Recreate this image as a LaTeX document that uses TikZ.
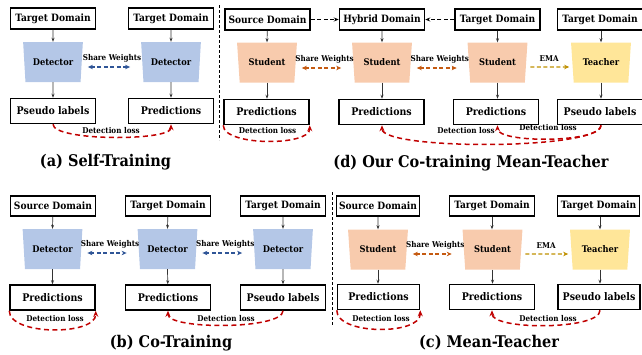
\documentclass[tikz,border=0pt]{standalone}
\usepackage{fontspec}
\setmainfont{DejaVu Serif Condensed}
\usetikzlibrary{arrows.meta,shapes.geometric}
\definecolor{detblue}{HTML}{B4C7E7}
\definecolor{stupeach}{HTML}{F8CBAD}
\definecolor{teayellow}{HTML}{FFE699}
\definecolor{shareblue}{HTML}{2F5597}
\definecolor{shareorange}{HTML}{C55A11}
\definecolor{emagold}{HTML}{BF9000}
\definecolor{lossred}{HTML}{C00000}
\begin{document}
\begin{tikzpicture}[x=1pt,y=-1pt,
  dbox/.style={draw, line width=1.5pt, minimum width=85pt, minimum height=21pt, inner sep=0pt, font=\rmfamily\bfseries\fontsize{10.1}{12}\selectfont},
  pbox/.style={dbox, minimum height=25pt, font=\rmfamily\bfseries\fontsize{10.5}{12}\selectfont},
  netshape/.style={trapezium, trapezium left angle=76, trapezium right angle=76, shape border rotate=180, minimum width=60pt, minimum height=40pt, trapezium stretches=true, inner sep=0pt, font=\rmfamily\bfseries\fontsize{9.2}{11}\selectfont},
  detnet/.style={netshape, fill=detblue},
  stunet/.style={netshape, fill=stupeach},
  teanet/.style={netshape, fill=teayellow},
  flow/.style={-{Stealth[length=4pt,width=3pt]}, line width=0.7pt, draw=black!80},
  sharearr/.style={{Stealth[length=5pt,width=4.5pt]}-{Stealth[length=5pt,width=4.5pt]}, dash pattern=on 4pt off 2.5pt, line width=1.4pt, shorten <=6pt, shorten >=12pt},
  emaarr/.style={-{Stealth[length=5pt,width=4.5pt]}, dash pattern=on 4pt off 2.5pt, line width=1.4pt, draw=emagold, shorten <=4pt, shorten >=3pt},
  lbl/.style={font=\rmfamily\bfseries\fontsize{8}{10}\selectfont, inner sep=0pt},
  loss/.style={-{Stealth[length=6pt,width=5pt]}, dash pattern=on 5pt off 3.5pt, line width=1.5pt, draw=lossred},
  dom/.style={-{Stealth[length=5pt,width=4pt]}, dash pattern=on 4pt off 2.5pt, line width=1.1pt},
  divider/.style={dash pattern=on 3pt off 2pt, line width=1pt},
  ttl/.style={font=\rmfamily\bfseries\fontsize{16.1}{20}\selectfont, inner sep=0pt}
]
\useasboundingbox (0,0) rectangle (642,354);

% ---------------- (a) Self-Training ----------------
\node[dbox] (a1) at (53,18.5) {Target Domain};
\node[dbox] (a2) at (171,18.5) {Target Domain};
\node[detnet] (ad1) at (53,62) {Detector};
\node[detnet] (ad2) at (171,62) {Detector};
\node[pbox] (ap1) at (53,111) {Pseudo labels};
\node[pbox] (ap2) at (171,111) {Predictions};
\draw[flow] (a1) -- (ad1.north);
\draw[flow] (a2) -- (ad2.north);
\draw[flow] (ad1.south) -- (ap1);
\draw[flow] (ad2.south) -- (ap2);
\draw[sharearr, draw=shareblue] ([yshift=-5pt]ad1.east) -- ([yshift=-5pt]ad2.west)
  node[lbl, midway, yshift=9pt] {Share Weights};
\draw[loss] (ap1.south) .. controls +(0,17) and +(0,17) .. (ap2.south);
\node[lbl] (al) at (111,131) {Detection loss};
\node[ttl] (at) at (105.5,162) {(a) Self-Training};

% ---------------- (d) Co-training Mean-Teacher ----------------
\node[dbox] (d1) at (267.5,19.5) {Source Domain};
\node[dbox] (d2) at (382,19.5) {Hybrid Domain};
\node[dbox] (d3) at (497.5,19.5) {Target Domain};
\node[dbox] (d4) at (600,19.5) {Target Domain};
\node[stunet] (dn1) at (267,62.5) {Student};
\node[stunet] (dn2) at (382,62.5) {Student};
\node[stunet] (dn3) at (497.5,62.5) {Student};
\node[teanet] (dn4) at (601,62.5) {Teacher};
\node[pbox] (dp1) at (266.5,112) {Predictions};
\node[pbox] (dp2) at (381.5,112) {Predictions};
\node[pbox] (dp3) at (496,112) {Predictions};
\node[pbox] (dp4) at (600,112) {Pseudo labels};
\draw[dom] (d1) -- (d2);
\draw[dom] (d3) -- (d2);
\draw[flow] (d1) -- (dn1.north);
\draw[flow] (d2) -- (dn2.north);
\draw[flow] (d3) -- (dn3.north);
\draw[flow] (d4.south -| dn4.north) -- (dn4.north);
\draw[flow] (dn1.south) -- (dp1.north -| dn1.south);
\draw[flow] (dn2.south) -- (dp2.north -| dn2.south);
\draw[flow] (dn3.south) -- (dp3.north -| dn3.south);
\draw[flow] (dn4.south) -- (dp4.north -| dn4.south);
\draw[sharearr, draw=shareorange] ([yshift=-5.5pt]dn1.east) -- ([yshift=-5.5pt]dn2.west)
  node[lbl, midway, yshift=8.5pt] {Share Weights};
\draw[sharearr, draw=shareorange] ([yshift=-5.5pt]dn2.east) -- ([yshift=-5.5pt]dn3.west)
  node[lbl, midway, yshift=8.5pt] {Share Weights};
\draw[emaarr] ([yshift=-4.5pt]dn3.east) -- ([yshift=-4.5pt]dn4.west)
  node[lbl, midway, yshift=8.5pt] {EMA};
\draw[loss] (dp1.south west) .. controls +(0,21) and +(0,21) .. (dp1.south east);
\node[lbl] (dl1) at (267.5,131) {Detection loss};
\draw[loss] (dp4.south -| dn4.south) .. controls +(0,25) and +(0,25) .. (dp2.south -| dn2.south);
\draw[loss] (dp4.south -| dn4.south) .. controls +(0,18) and +(0,18) .. (dp3.south -| dn3.south);
\node[lbl] (dl2) at (466,131) {Detection loss};
\node[lbl] (dl3) at (548,128) {Detection loss};
\node[ttl] (dt) at (471,163) {(d) Our Co-training Mean-Teacher};

% ---------------- (b) Co-Training ----------------
\node[dbox, minimum height=20pt] (b1) at (53,206) {Source Domain};
\node[dbox, minimum height=20pt] (b2) at (168,206) {Target Domain};
\node[dbox, minimum height=20pt] (b3) at (283,206) {Target Domain};
\node[detnet] (bn1) at (52.5,249) {Detector};
\node[detnet] (bn2) at (167.5,249) {Detector};
\node[detnet] (bn3) at (283,249) {Detector};
\node[pbox] (bp1) at (52.5,297.5) {Predictions};
\node[pbox] (bp2) at (168,297.5) {Predictions};
\node[pbox] (bp3) at (283,297.5) {Pseudo labels};
\draw[flow] (b1) -- (bn1.north);
\draw[flow] (b2) -- (bn2.north);
\draw[flow] (b3) -- (bn3.north);
\draw[flow] (bn1.south) -- (bp1);
\draw[flow] (bn2.south) -- (bp2);
\draw[flow] (bn3.south) -- (bp3);
\draw[sharearr, draw=shareblue] ([yshift=-4pt]bn1.east) -- ([yshift=-4pt]bn2.west)
  node[lbl, midway, yshift=8.5pt] {Share Weights};
\draw[sharearr, draw=shareblue] ([yshift=-4pt]bn2.east) -- ([yshift=-4pt]bn3.west)
  node[lbl, midway, yshift=8.5pt] {Share Weights};
\draw[loss] (bp1.south west) .. controls +(0,25) and +(0,25) .. (bp1.south east);
\node[lbl] (bl1) at (55,319) {Detection loss};
\draw[loss] (bp3.south) .. controls +(0,19) and +(0,19) .. (bp2.south);
\node[lbl] (bl2) at (226,319) {Detection loss};
\node[ttl] (bt) at (171,343) {(b) Co-Training};

% ---------------- (c) Mean-Teacher ----------------
\node[dbox, minimum height=20pt, minimum width=83pt] (c1) at (378,206) {Source Domain};
\node[dbox, minimum height=20pt] (c2) at (492,206) {Target Domain};
\node[dbox, minimum height=20pt, minimum width=82pt] (c3) at (598.5,206) {Target Domain};
\node[stunet] (cn1) at (378,249.5) {Student};
\node[stunet] (cn2) at (492.5,249.5) {Student};
\node[teanet] (cn3) at (600,249.5) {Teacher};
\node[pbox, minimum width=82pt] (cp1) at (378.5,297) {Predictions};
\node[pbox] (cp2) at (492,297) {Predictions};
\node[pbox, minimum width=82pt] (cp3) at (599,297) {Pseudo labels};
\draw[flow] (c1) -- (cn1.north);
\draw[flow] (c2) -- (cn2.north -| c2.south);
\draw[flow] (c3.south -| cn3.north) -- (cn3.north);
\draw[flow] (cn1.south) -- (cp1.north -| cn1.south);
\draw[flow] (cn2.south) -- (cp2.north -| cn2.south);
\draw[flow] (cn3.south) -- (cp3.north -| cn3.south);
\draw[sharearr, draw=shareorange] ([yshift=-4.5pt]cn1.east) -- ([yshift=-4.5pt]cn2.west)
  node[lbl, midway, yshift=8.5pt] {Share Weights};
\draw[emaarr] ([yshift=-4.5pt]cn2.east) -- ([yshift=-4.5pt]cn3.west)
  node[lbl, midway, yshift=8.5pt] {EMA};
\draw[loss] (cp1.south west) .. controls +(0,25) and +(0,25) .. (cp1.south east);
\node[lbl] (cl1) at (381,319) {Detection loss};
\draw[loss] (cp3.south -| cn3.south) .. controls +(0,20) and +(0,20) .. (cp2.south);
\node[lbl] (cl2) at (548,319) {Detection loss};
\node[ttl] (ct) at (489,343) {(c) Mean-Teacher};

% ---------------- dividers ----------------
\coordinate (v1a) at (219,5);
\coordinate (v1b) at (219,140);
\coordinate (v2a) at (332,192);
\coordinate (v2b) at (332,325);
\draw[divider] (v1a) -- (v1b);
\draw[divider] (v2a) -- (v2b);
\end{tikzpicture}
\end{document}
